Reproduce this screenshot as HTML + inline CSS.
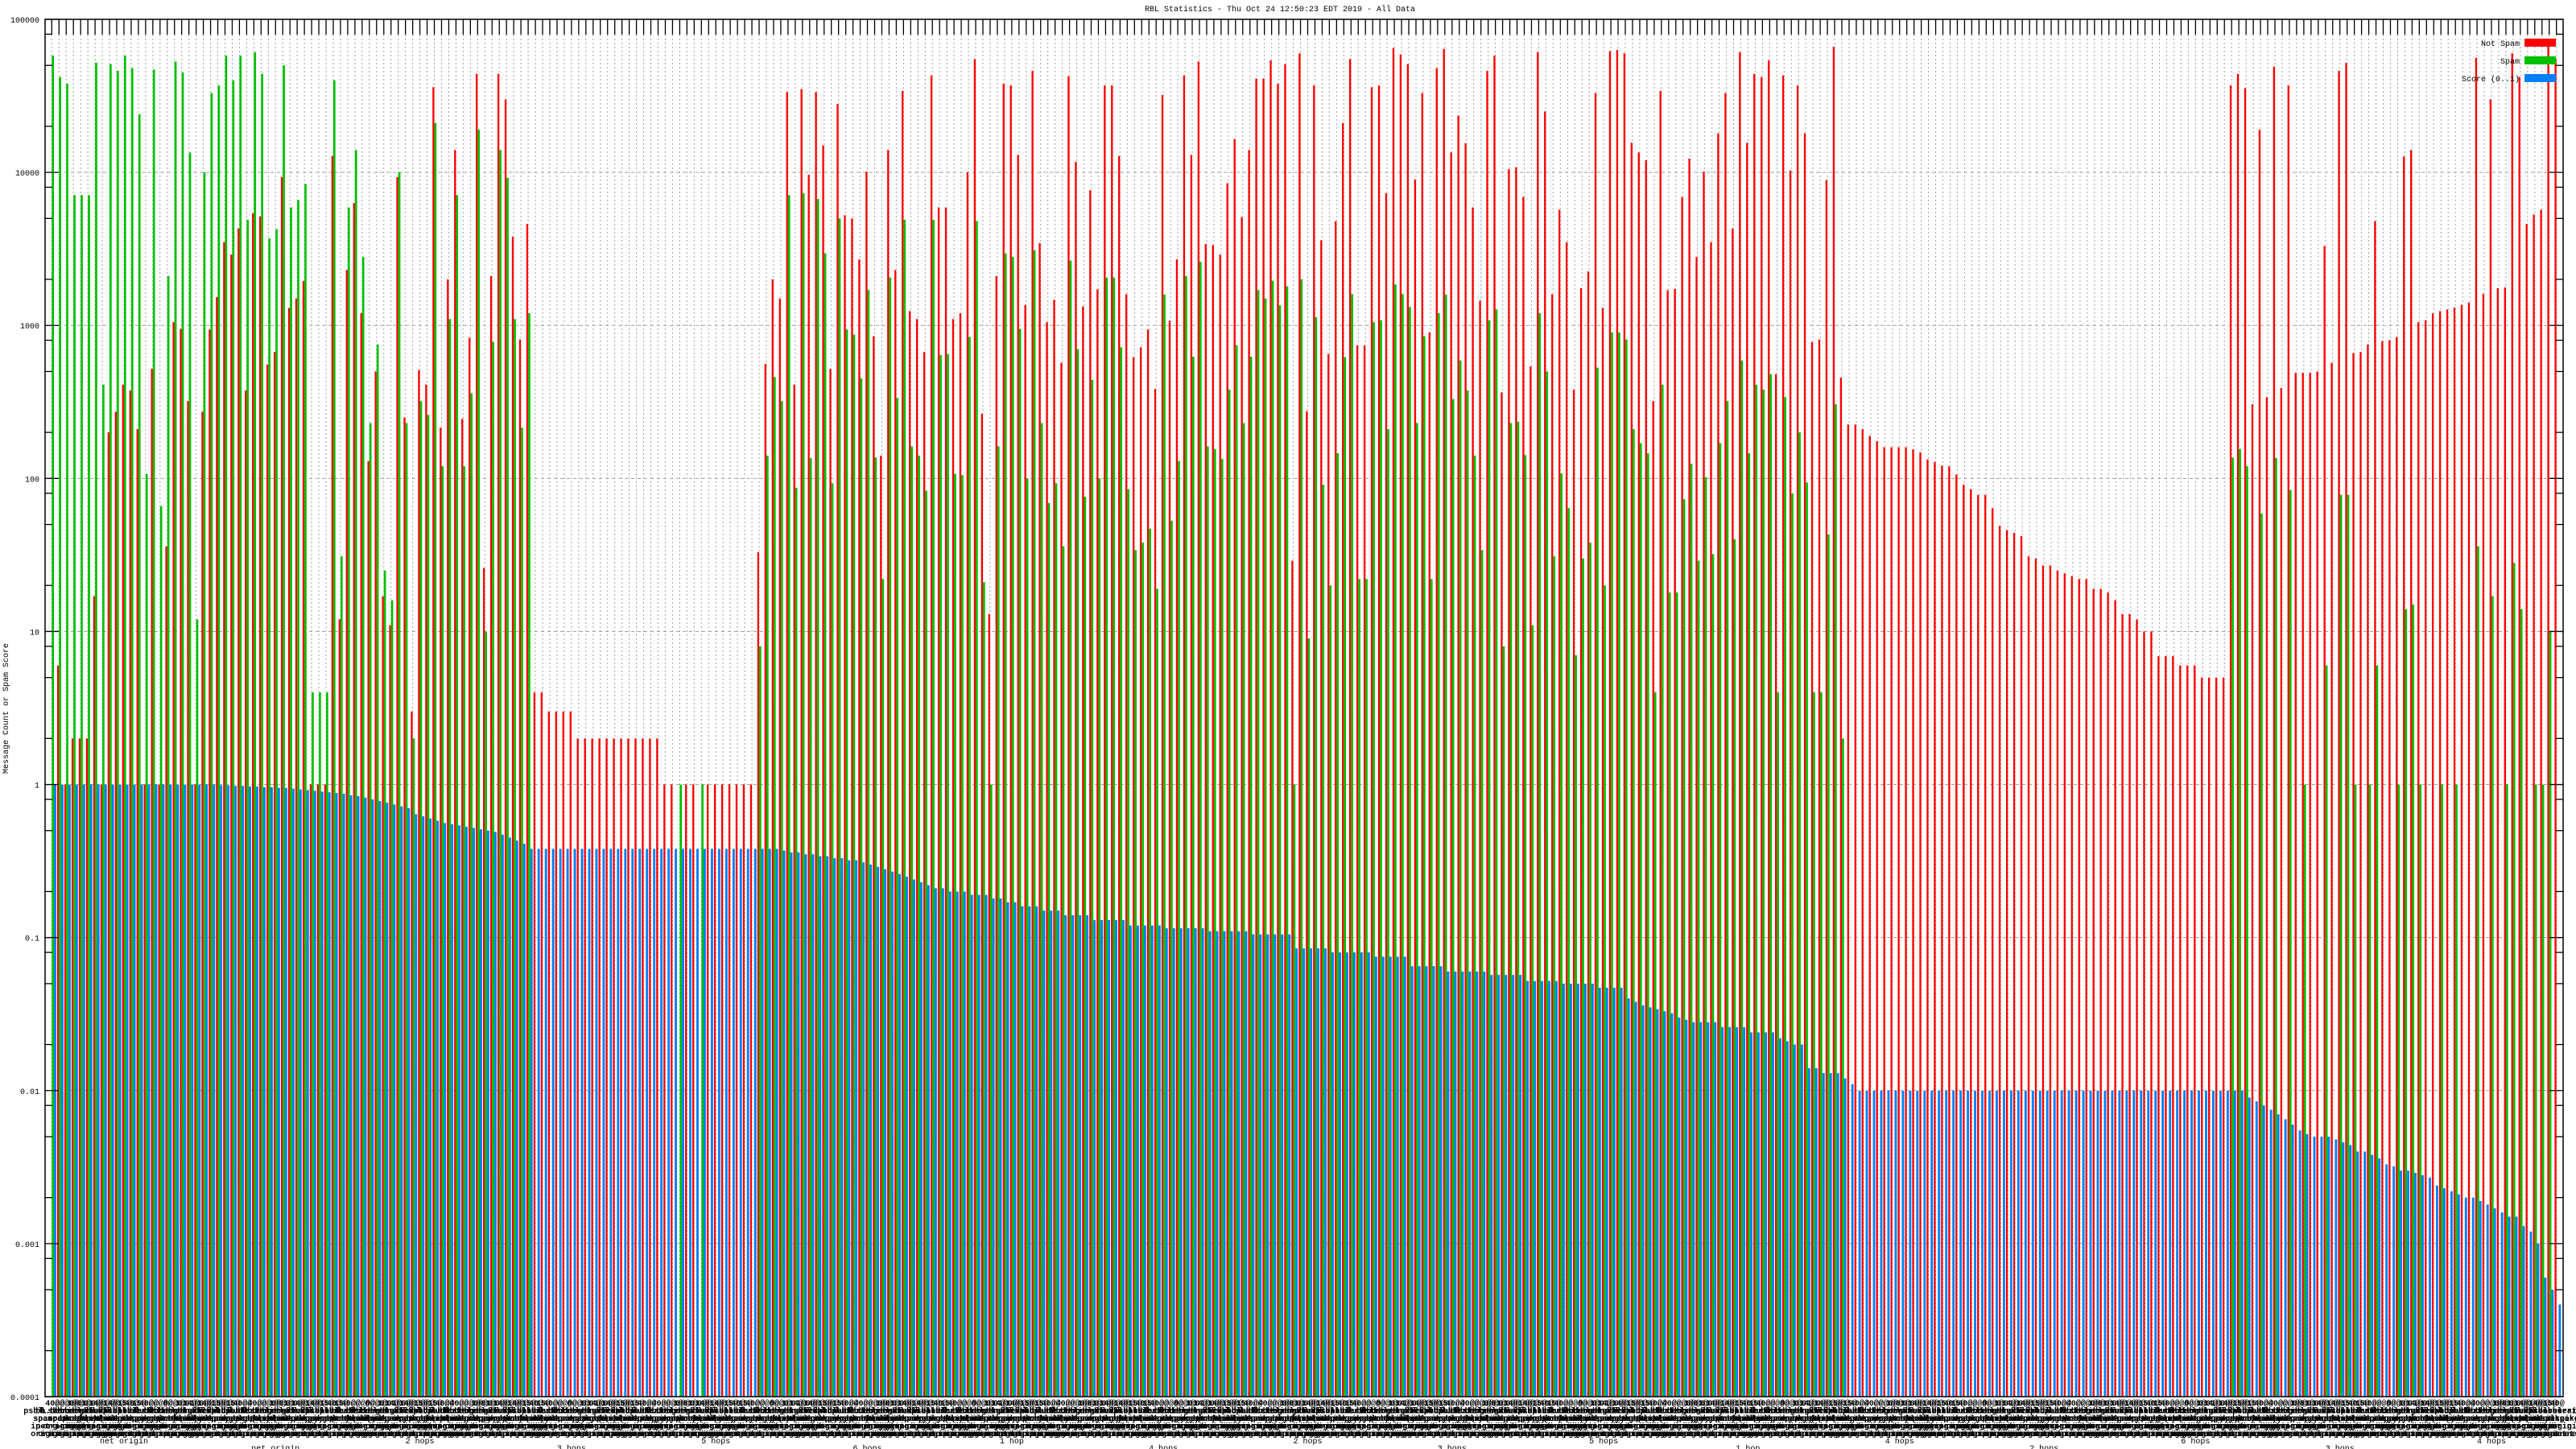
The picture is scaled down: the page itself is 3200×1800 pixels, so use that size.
<!DOCTYPE html>
<html><head><meta charset="utf-8"><title>RBL Statistics</title>
<style>
html,body{margin:0;padding:0;background:#fff;}
svg{display:block;font-family:"Liberation Mono",monospace;}
</style></head>
<body>
<svg id="chart" xmlns="http://www.w3.org/2000/svg" width="3200" height="1800" viewBox="0 0 3200 1800">
<rect x="0" y="0" width="3200" height="1800" fill="#fff"/>
<text x="1590" y="14" font-size="10" text-anchor="middle" fill="#000">RBL Statistics - Thu Oct 24 12:50:23 EDT 2019 - All Data</text>
<text x="0" y="0" font-size="10" text-anchor="middle" fill="#000" transform="translate(10,880) rotate(-90)">Message Count or Spam Score</text>
<g id="grid"></g><g id="bars"></g><g id="axes"></g><g id="xlabels"></g>
<g>
<text x="3130" y="57" font-size="10" text-anchor="end">Not Spam</text>
<rect x="3136" y="48" width="39" height="10" fill="#ff0000"/>
<text x="3130" y="79" font-size="10" text-anchor="end">Spam</text>
<rect x="3136" y="70" width="39" height="10" fill="#00c000"/>
<text x="3130" y="101" font-size="10" text-anchor="end">Score (0..1)</text>
<rect x="3136" y="92" width="39" height="10" fill="#0080ff"/>
</g>
</svg>
<script>
const notSpam=[0,
6,1,2,2,2,17,1,200,273,410,375,210,1,520,1,36,1050,950,320,1,273,940,1530,3500,2900,4300,375,5400,5150,555,670,9300,1300,1500,1950,1,1,1,12800,12,2300,6300,1200,130,500,17,11,9300,250,3,510,410,36000,215,2000,14000,245,830,44000,26,2100,44000,30000,3800,810,4600,
4,4,3,3,3,3,2,2,2,2,2,2,2,2,2,2,2,2,1,1,0,1,1,0,1,1,1,1,1,1,1,
33,560,2000,1500,33500,410,35000,9650,33500,15000,
520,28000,5250,5000,2700,10100,850,141,14000,2300,
34000,1240,1100,670,43000,5900,5900,1100,1200,10000,
55000,265,13,2100,38000,37000,13000,1360,46000,3450,
1050,1470,570,42500,11700,1330,7650,1720,37000,37000,
12800,1600,620,720,940,385,32000,1070,2700,43000,
13000,53000,3400,3350,2900,8500,16500,5100,14000,41000,
41000,54000,38000,51000,29,60000,275,37000,3600,650,
4800,21000,55000,740,740,36000,37000,7300,65000,59000,
51000,9000,33000,900,48000,64000,13500,23500,15500,5900,
1450,46000,58000,365,10500,10800,6900,540,61000,25000,
1600,5700,3500,380,1750,2250,33000,1300,62000,63000,
60000,15600,13500,12000,320,34000,1700,1730,6900,12300,
2800,10100,3500,18000,33000,4300,61000,15600,44000,42000,
54000,480,43000,10300,37000,18000,780,810,8900,66000,
455,225,225,210,190,175,160,160,160,160,
155,148,133,128,121,120,106,
91,85,78,78,64,49,46,44,42,31,
30,27,27,25,24,23,22,22,19,19,
18,16,13,13,12,10,10,6.9,6.9,6.9,
6,6,6,5,5,5,5,37000,44000,35500,
305,19000,340,49000,390,37000,490,490,490,500,
3300,570,46000,52000,660,670,750,4800,790,800,
840,12700,14000,1050,1080,1200,1240,1270,1310,1360,
1410,56000,1610,30000,1750,1770,60000,42000,4600,5300,
5700,68000,55000];
const spam=[58000,42000,38000,7100,7100,7100,52000,410,51000,46000,
58000,48000,24000,107,47000,66,2100,53000,45000,13500,
12,10000,33000,37000,58000,40000,58000,4900,61000,44000,
3700,4250,50000,5900,6600,8400,4,4,4,40000,
31,5900,14000,2800,230,750,25,16,10000,230,
2,320,260,21000,120,1100,7100,120,360,19000,
10,780,14000,9200,1100,215,1200,
0,0,0,0,0,0,0,0,0,0,0,0,0,0,0,0,0,0,0,0,1,0,0,1,0,0,0,0,0,0,0,
8,141,460,320,7100,87,7300,136,6700,2950,
93,5000,940,870,450,1700,137,22,2050,335,
4900,162,141,83,4900,640,650,107,105,840,
4800,21,1,162,2950,2800,950,100,3100,230,
69,93,36,2650,700,76,440,100,2050,2050,
720,85,34,38,47,19,1590,53,130,2100,
625,2600,162,155,134,380,740,230,625,1700,
1500,1960,1350,1800,1,2000,9,1130,91,20,
146,620,1600,22,22,1050,1080,210,1850,1600,
1320,230,850,22,1200,1590,330,590,375,141,
34,1080,1270,8,230,235,142,11,1200,500,
31,108,64,7,30,38,530,20,900,900,
810,210,170,146,4,410,18,18,73,125,
29,102,32,170,320,40,590,146,410,380,
480,4,340,80,200,94,4,4,43,305,
2,0,0,0,0,0,0,0,0,0,0,0,0,0,0,0,0,
0,0,0,0,0,0,0,0,0,0,0,0,0,0,0,0,0,0,0,0,0,0,0,0,0,0,0,0,0,0,0,0,0,0,0,0,0,
137,156,120,0,59,0,136,0,84,0,1,0,0,6,0,78,78,1,0,1,6,0,0,1,14,15,1,0,0,1,0,1,0,0,36,0,17,0,1,28,14,0,1,1,10,0];
const score=[1,1,1,1,1,1,1,1,1,1,1,1,1,1,1,1,1,1,1,1,1,1,1,
0.99,0.99,0.98,0.98,0.97,0.97,0.96,0.96,
0.95,0.95,0.94,0.93,0.92,0.91,0.9,0.89,0.88,0.87,
0.85,0.84,0.82,0.8,0.78,0.76,0.74,
0.72,0.7,0.64,0.62,0.6,0.58,0.56,0.55,
0.54,0.53,0.52,0.51,0.5,0.49,0.47,0.45,0.43,0.41,
0.38,0.38,0.38,0.38,0.38,0.38,0.38,0.38,0.38,0.38,0.38,0.38,0.38,0.38,0.38,0.38,0.38,0.38,0.38,0.38,0.38,0.38,0.38,0.38,0.38,0.38,0.38,0.38,0.38,0.38,0.38,0.38,0.38,0.38,0.38,
0.37,0.36,0.36,0.35,0.35,0.34,0.34,0.33,0.33,0.32,0.32,0.31,0.3,0.29,0.28,0.27,
0.26,0.25,0.24,0.23,0.22,0.21,0.21,0.2,0.2,0.2,
0.19,0.19,0.19,0.18,0.18,0.17,0.17,0.16,0.16,0.16,0.15,0.15,0.15,
0.14,0.14,0.14,0.14,0.13,0.13,0.13,0.13,0.13,0.12,0.12,0.12,0.12,0.12,
0.115,0.115,0.115,0.115,0.115,0.115,0.11,0.11,0.11,0.11,0.11,0.11,0.105,0.105,0.105,0.105,0.105,0.105,
0.085,0.085,0.085,0.085,0.085,0.08,0.08,0.08,0.08,0.08,0.08,0.075,0.075,0.075,0.075,0.075,
0.065,0.065,0.065,0.065,0.065,0.06,0.06,0.06,0.06,0.06,0.06,0.057,0.057,0.057,0.057,0.057,
0.052,0.052,0.052,0.052,0.052,0.05,0.05,0.05,0.05,0.05,0.047,0.047,0.047,0.047,
0.04,0.038,0.036,0.035,0.034,0.033,0.032,0.03,0.029,
0.028,0.028,0.028,0.028,0.026,0.026,0.026,0.026,0.024,0.024,0.024,0.024,0.022,0.021,0.02,0.02,
0.014,0.014,0.013,0.013,0.013,0.012,0.011,
0.01,0.01,0.01,0.01,0.01,0.01,0.01,0.01,0.01,0.01,0.01,0.01,0.01,0.01,0.01,0.01,0.01,0.01,0.01,0.01,0.01,0.01,0.01,0.01,0.01,0.01,0.01,0.01,0.01,0.01,0.01,0.01,0.01,0.01,0.01,0.01,0.01,0.01,0.01,0.01,0.01,0.01,0.01,0.01,0.01,0.01,0.01,0.01,0.01,0.01,0.01,0.01,0.01,0.01,
0.009,0.0085,0.008,0.0075,0.007,0.0065,0.006,0.0055,0.0052,0.005,
0.005,0.005,0.0048,0.0046,0.0044,
0.004,0.004,0.0038,0.0036,
0.0033,0.0032,0.003,0.003,0.0029,0.0028,0.0027,
0.0024,0.0023,0.0022,0.0021,0.002,0.002,0.0019,0.0018,0.0017,
0.0016,0.0015,0.0015,0.0013,0.0012,
0.001,
0.0006,0.0005,0.0004];
const yTickValues=[0.0001,0.001,0.01,0.1,1,10,100,1000,10000,100000];
const yTickLabels=["0.0001","0.001","0.01","0.1","1","10","100","1000","10000","100000"];
const minorMultipliers=[2,5,8];
const labelRow1=["40@","@@@","1@0","@@","15@","14@","@@0"];
const labelRow2=["zen.dnsbl","bl.ddb.org","cbl.abuseat","dnsbl.sorbs","b.barracuda","psbl.surriel","ix.dnsbl"];
const labelRow3=["spamhaus.org","spamcop.net","uceprotect","mailspike","spamrats","blocklist"];
const labelRow4=["origin","org-origin","net-origin","ip-origin"];
const labelRow5=["origin","origin-net","origin-ip"];
const hopLabels=["net origin","net origin","2 hops","3 hops","5 hops","6 hops","1 hop","4 hops","2 hops","3 hops","5 hops","1 hop","4 hops","2 hops","6 hops","3 hops","4 hops"];

const NS="http://www.w3.org/2000/svg";
const L=56,R=3184,T=24,B=1735;
const N=notSpam.length;
const X0=64.3,X1=3175.7;
const step=(X1-X0)/(N-1);
function xPos(i){return X0+i*step;}
function yPos(v){return B-(Math.log10(v)+4)*((B-T)/9);}
function mk(tag,attrs,parent){const e=document.createElementNS(NS,tag);for(const k in attrs)e.setAttribute(k,attrs[k]);parent.appendChild(e);return e;}
const grid=document.getElementById('grid'),bars=document.getElementById('bars'),axes=document.getElementById('axes'),xl=document.getElementById('xlabels');

// vertical dotted grid + top ticks
for(let i=0;i<N;i++){
  const x=xPos(i);
  const g=mk('line',{x1:x,y1:T+19,x2:x,y2:B,stroke:'#a0a0a0','stroke-width':1,'stroke-dasharray':'2,3'},grid);
  
  
  const t=mk('line',{x1:x,y1:T,x2:x,y2:T+19,stroke:'#000','stroke-width':1.3},axes);
  
  
}
// horizontal grid and y ticks
yTickValues.forEach((v,k)=>{
  const y=yPos(v);
  if(k>0&&k<yTickValues.length-1){
    const h=mk('line',{x1:L,y1:y,x2:R,y2:y,stroke:'#a0a0a0','stroke-width':1,'stroke-dasharray':'4,4'},grid);
    
    
  }
  const tl=mk('line',{x1:L,y1:y,x2:L+17,y2:y,stroke:'#000','stroke-width':1.3},axes);
  
  
  const tr=mk('line',{x1:R-17,y1:y,x2:R,y2:y,stroke:'#000','stroke-width':1.3},axes);
  
  
  const lab=mk('text',{x:L-7,y:y+4,'font-size':10,'text-anchor':'end',fill:'#000'},axes);
  lab.textContent=yTickLabels[k];
  
  
  if(k<yTickValues.length-1){
    minorMultipliers.forEach(m=>{
      const ym=yPos(v*m);
      const a=mk('line',{x1:L,y1:ym,x2:L+9,y2:ym,stroke:'#000','stroke-width':1.3},axes);
      
      
      const b=mk('line',{x1:R-9,y1:ym,x2:R,y2:ym,stroke:'#000','stroke-width':1.3},axes);
      
      
    });
  }
});
// bars
function bar(x,w,v,color,name){
  if(!(v>0))return;
  const y=yPos(v);
  const r=mk('rect',{x:x,y:y,width:w,height:B-y,fill:color},bars);
  
  
}
for(let i=0;i<N;i++){
  const t=xPos(i);
  bar(t-2.3,2.3,notSpam[i],'#ff0000','bar-not-spam');
  bar(t,2.7,spam[i],'#00c000','bar-spam');
  bar(t+2.7,2.9,score[i],'#0080ff','bar-score');
}
// frame
const fr=mk('rect',{x:L,y:T,width:R-L,height:B-T,fill:'none',stroke:'#000','stroke-width':1.5},axes);


// x labels
const rows=[labelRow1,labelRow2,labelRow3,labelRow4,labelRow5];
for(let i=0;i<N;i++){
  const x=xPos(i)+1;
  rows.forEach((arr,r)=>{
    const tx=mk('text',{x:x,y:1746+r*9.5,'font-size':10,'font-weight':'bold','text-anchor':'middle',fill:'#000'},xl);
    tx.textContent=arr[(i*3+r*5+(i>>2))%arr.length];
    
    
  });
}
hopLabels.forEach((s,k)=>{
  const i=Math.round((k+0.5)*N/hopLabels.length);
  const tx=mk('text',{x:xPos(i),y:1793+(k%2)*9,'font-size':10,'text-anchor':'middle',fill:'#000'},xl);
  tx.textContent=s;
  
  
});
</script>
</body></html>
